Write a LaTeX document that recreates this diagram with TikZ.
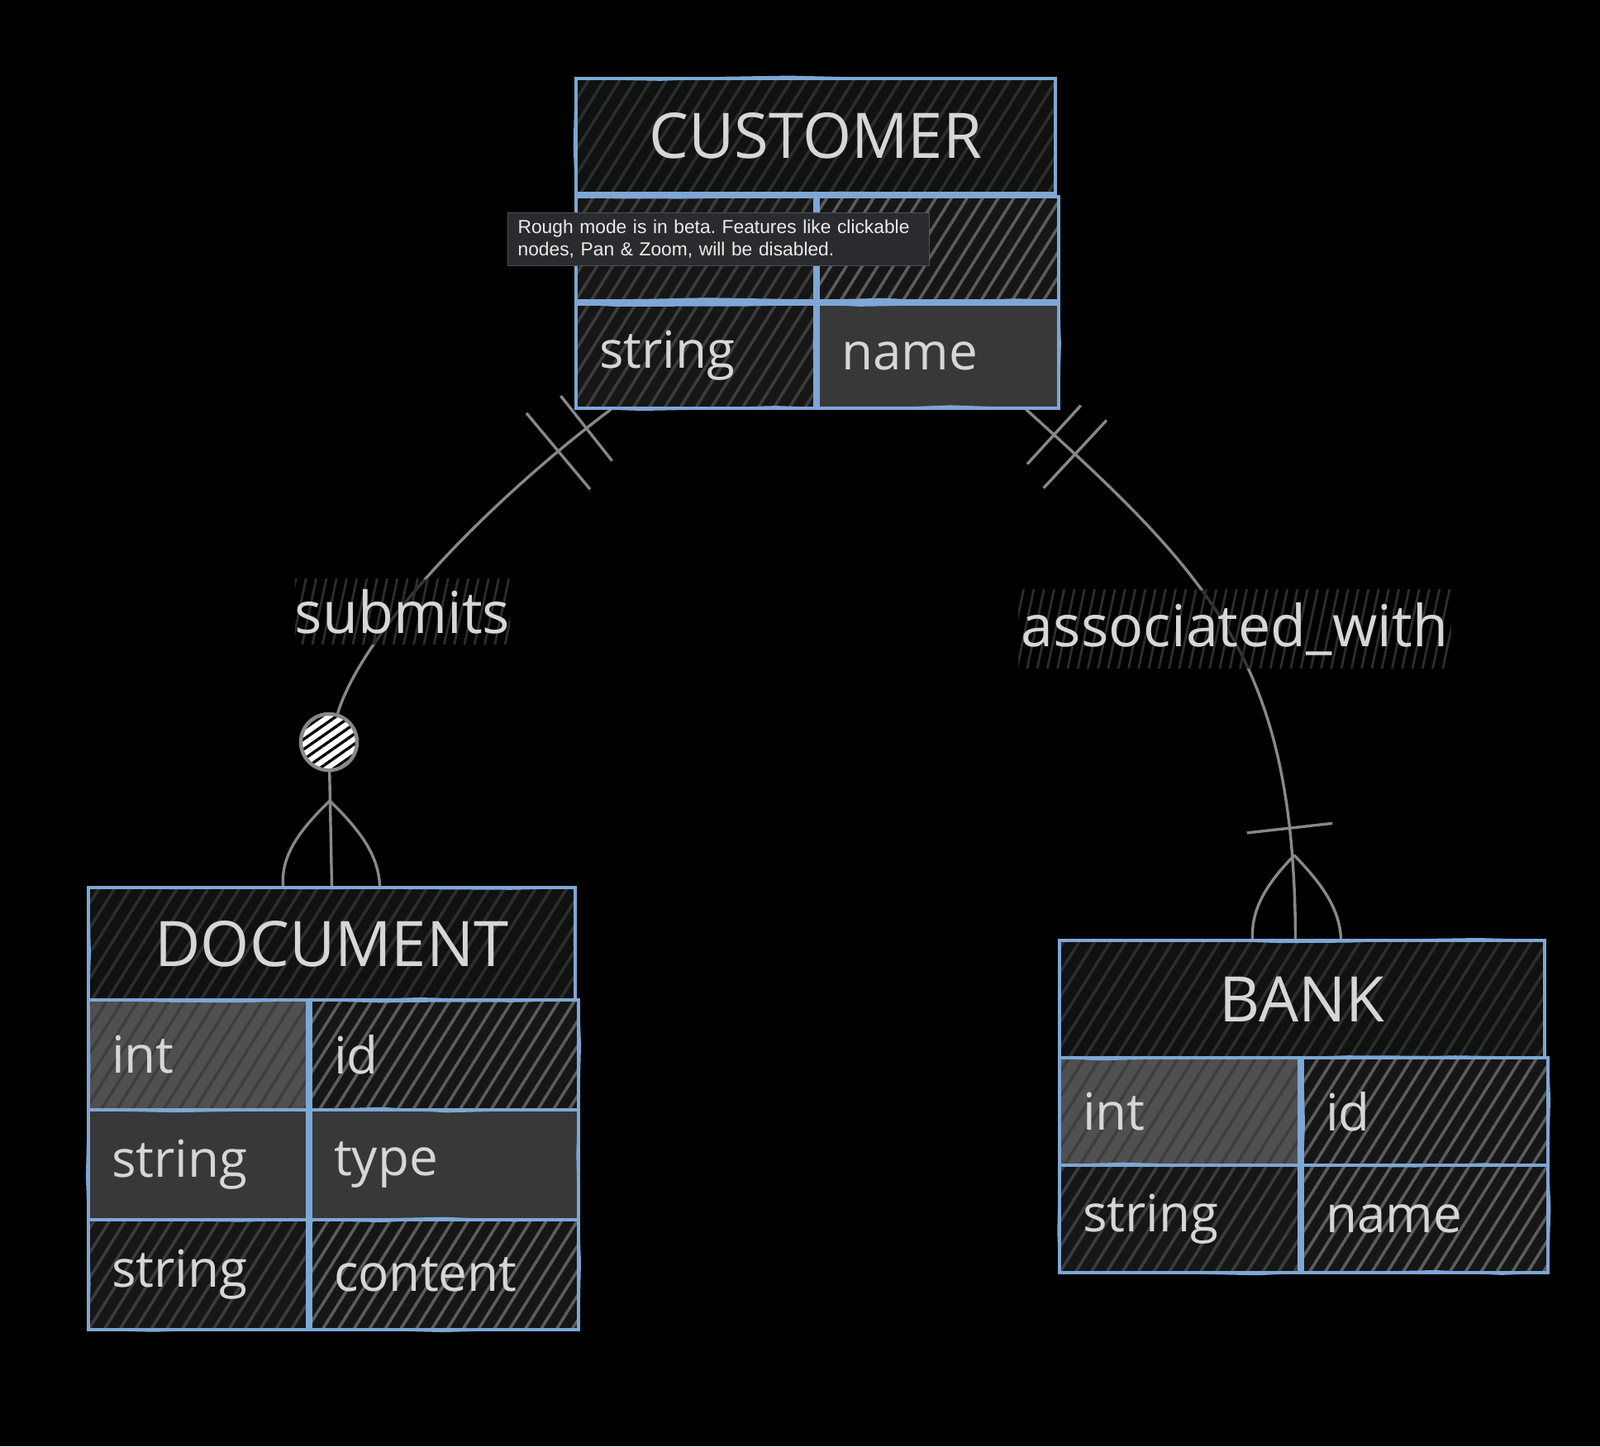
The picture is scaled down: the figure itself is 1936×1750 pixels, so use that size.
\documentclass[tikz,border=0pt]{standalone}
\usepackage{fontspec}
\setmainfont{Open Sans}
\newfontfamily\tipfont{Liberation Sans}
\usetikzlibrary{positioning,calc,patterns.meta,decorations.pathmorphing}
\pgfdeclarelayer{bg}
\pgfdeclarelayer{wires}
\pgfsetlayers{bg,wires,main}
\definecolor{erblue}{RGB}{126,167,213}
\definecolor{ertext}{RGB}{214,214,214}
\definecolor{erwire}{RGB}{136,136,136}
\definecolor{erhead}{RGB}{16,17,17}
\definecolor{erheadln}{RGB}{44,46,46}
\definecolor{ermid}{RGB}{56,56,56}
\definecolor{erlight}{RGB}{80,80,80}
\definecolor{erlightln}{RGB}{62,62,62}
\definecolor{erdark}{RGB}{22,22,22}
\definecolor{erdarkln}{RGB}{60,60,60}
\definecolor{ergrayln}{RGB}{92,92,92}
\definecolor{tipbg}{RGB}{42,43,46}
\definecolor{tipln}{RGB}{80,80,82}
\tikzset{
  hatch/.style 2 args={preaction={fill=#1},pattern={Lines[angle=58,distance=8pt,line width=1.8pt]},pattern color=#2},
  rough/.style={postaction={draw=erblue,line width=1pt,decorate,
    decoration={random steps,segment length=40pt,amplitude=1.2pt}}},
  head/.style={draw=erblue,line width=2pt,rough,anchor=north west,inner sep=0pt,text=ertext,
    font=\fontsize{38}{44}\selectfont,hatch={erhead}{erheadln}},
  cell/.style={draw=erblue,line width=2pt,rough,anchor=north west,inner xsep=14pt,inner ysep=0pt,
    align=left,text=ertext,font=\fontsize{31}{36}\selectfont},
  solidmid/.style={fill=ermid},
  solidlight/.style={hatch={erlight}{erlightln}},
  hatchgray/.style={hatch={erdark}{ergrayln}},
  hatchdark/.style={hatch={erdark}{erdarkln}},
  wire/.style={draw=erwire,line width=1.7pt,line cap=round},
  bar/.style={sloped,draw=erwire,line width=1.7pt,inner sep=0pt,minimum width=0pt,minimum height=#1},
  bar/.default=56pt,
  optcirc/.style={circle,minimum size=34pt,inner sep=0pt,draw=erwire,line width=2.2pt,preaction={fill=white},
    pattern={Lines[angle=35,distance=5pt,line width=1.7pt]},pattern color=black},
  rel/.style={inner sep=0pt,text=ertext,font=\fontsize{35}{40}\selectfont,
    preaction={fill=black,fill opacity=0.6},pattern={Lines[angle=78,distance=6pt,line width=1.4pt]},pattern color=erheadln},
  tip/.style={anchor=north west,fill=tipbg,draw=tipln,line width=0.6pt,text=white!92!black,
    font=\tipfont\frenchspacing\fontsize{11.4}{13.5}\selectfont,align=left,text width=243pt,inner xsep=6pt,inner ysep=4pt,minimum height=32pt}
}
\begin{document}
\begin{tikzpicture}[x=0.5pt,y=-0.5pt]
\begin{pgfonlayer}{bg}
  \fill[black] (0,0) rectangle (1936,1750);
\end{pgfonlayer}
\useasboundingbox (0,0) rectangle (1936,1750);
% CUSTOMER
\node[head,minimum width=290pt,minimum height=69.5pt] (cust-head) at (695,93) {CUSTOMER};
\node[cell,hatchdark,text width=116.5pt,minimum height=63pt] (cust-1a) at (cust-head.south west) {};
\node[cell,hatchgray,text width=117.5pt,minimum height=63pt] (cust-1b) at (cust-1a.north east) {};
\node[cell,hatchdark,text width=116.5pt,minimum height=63pt] (cust-2a) at (cust-1a.south west) {string};
\node[cell,solidmid,text width=117.5pt,minimum height=63pt] (cust-2b) at (cust-2a.north east) {name};
% DOCUMENT
\node[head,minimum width=294.5pt,minimum height=68pt] (doc-head) at (105,1072) {DOCUMENT};
\foreach \typ/\nam/\sa/\sb [count=\i] in {int/id/solidlight/hatchgray,string/type/solidmid/solidmid,string/content/hatchdark/hatchgray}{
  \pgfmathsetmacro\y{1208+(\i-1)*133}
  \node[cell,\sa,text width=104.5pt,minimum height=66.5pt] (doc-\i a) at (105,\y) {\typ};
  \node[cell,\sb,text width=134pt,minimum height=66.5pt] (doc-\i b) at (doc-\i a.north east) {\nam};
}
% BANK
\node[head,minimum width=293.5pt,minimum height=71pt] (bank-head) at (1280,1136) {BANK};
\foreach \typ/\nam/\sa/\sb [count=\i] in {int/id/solidlight/hatchgray,string/name/hatchdark/hatchgray}{
  \pgfmathsetmacro\y{1278+(\i-1)*130}
  \node[cell,\sa,text width=117pt,minimum height=65pt] (bank-\i a) at (1280,\y) {\typ};
  \node[cell,\sb,text width=120.5pt,minimum height=65pt] (bank-\i b) at (bank-\i a.north east) {\nam};
}
% relation labels and optional marker
\node[rel,minimum width=127pt,minimum height=39.5pt] (lbl-submits) at (487,740) {submits};
\node[rel,minimum width=262pt,minimum height=47.5pt] (lbl-assoc) at (1494,761) {associated\_with};
\node[optcirc] (sub-opt) at (398,898) {};
% connectors
\begin{pgfonlayer}{wires}
  \coordinate (sub-from) at ($(cust-2a.south west)!0.15!(cust-2a.south east)$);
  \draw[wire] (sub-from) .. controls (600,600) and (440,760) .. (sub-opt)
    node[bar=50pt,pos=0.07] (sub-bar2) {}
    node[bar=60pt,pos=0.15] (sub-bar1) {};
  \draw[wire] (sub-opt) -- (doc-head.north);
  \coordinate (sub-fork) at (399,969);
  \draw[wire] (sub-fork) .. controls (362,1005) and (340,1035) .. ($(doc-head.north)+(-59,0)$);
  \draw[wire] (sub-fork) .. controls (436,1005) and (458,1035) .. ($(doc-head.north)+(58,0)$);
  \coordinate (assoc-from) at ($(cust-2b.south west)!0.86!(cust-2b.south east)$);
  \coordinate (assoc-to) at ($(bank-head.north)+(-8,0)$);
  \draw[wire] (assoc-from) .. controls (1473,704) and (1566,807) .. (assoc-to)
    node[bar=48pt,pos=0.05] (assoc-bar1) {}
    node[bar=56pt,pos=0.09] (assoc-bar2) {}
    node[bar=52pt,pos=0.85] (assoc-bar3) {};
  \coordinate (assoc-fork) at (1566,1035);
  \draw[wire] (assoc-fork) .. controls (1532,1070) and (1514,1100) .. ($(assoc-to)+(-52,0)$);
  \draw[wire] (assoc-fork) .. controls (1600,1070) and (1621,1100) .. ($(assoc-to)+(55,0)$);
\end{pgfonlayer}
% tooltip
\node[tip] (tooltip) at (614,257) {Rough mode is in beta. Features like clickable\\nodes, Pan \& Zoom, will be disabled.};
\end{tikzpicture}
\end{document}
